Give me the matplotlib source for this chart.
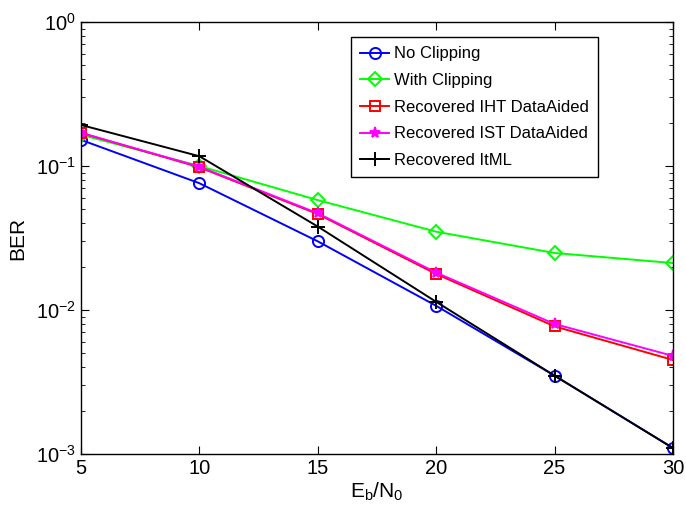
import numpy as np
import matplotlib
matplotlib.use("Agg")
import matplotlib.pyplot as plt

plt.rcParams["font.family"] = ["Liberation Sans", "DejaVu Sans"]
plt.rcParams["mathtext.fontset"] = "custom"
plt.rcParams["mathtext.rm"] = "Liberation Sans"
plt.rcParams["mathtext.it"] = "Liberation Sans"

# data
ebn0 = [5, 10, 15, 20, 25, 30]
no_clip = [0.152, 0.076, 0.030, 0.0107, 0.0035, 0.0011]
with_clip = [0.165, 0.100, 0.058, 0.035, 0.0249, 0.0212]
iht = [0.170, 0.098, 0.0464, 0.0178, 0.0077, 0.0045]
ist = [0.170, 0.099, 0.047, 0.0182, 0.0080, 0.0048]
itml = [0.193, 0.117, 0.038, 0.0114, 0.0035, 0.0011]

fig = plt.figure(figsize=(6.86, 5.13), dpi=100)
ax = fig.add_axes([0.118, 0.115, 0.863, 0.842])

ax.semilogy(ebn0, no_clip, "b-o", mfc="none", ms=8, lw=1.4, mew=1.4, label="No Clipping")
ax.semilogy(ebn0, with_clip, "-D", color="#00ff00", mfc="none", ms=7, lw=1.4, mew=1.4, label="With Clipping")
ax.semilogy(ebn0, iht, "r-s", mfc="none", ms=7, lw=1.4, mew=1.4, label="Recovered IHT DataAided")
ax.semilogy(ebn0, ist, "-*", color="#ff00ff", ms=8, lw=1.4, mew=1.4, label="Recovered IST DataAided")
ax.semilogy(ebn0, itml, "k-+", ms=10, lw=1.4, mew=1.4, label="Recovered ItML")

ax.set_xlim(5, 30)
ax.set_ylim(1e-3, 1)
ax.set_xticks(ebn0)
ax.set_xlabel(r"E$_\mathrm{b}$/N$_\mathrm{0}$", fontsize=15, labelpad=2)
ax.set_ylabel("BER", fontsize=15, labelpad=6)
ax.tick_params(which="both", direction="in", top=True, right=True, labelsize=14.5)
ax.tick_params(which="major", length=6)
ax.tick_params(which="minor", length=3)
for s in ax.spines.values():
    s.set_linewidth(1.0)

leg = ax.legend(loc="upper right", bbox_to_anchor=(0.873, 0.965), fontsize=12,
                fancybox=False, edgecolor="black", framealpha=1,
                handlelength=1.7, handletextpad=0.3, borderpad=0.55, labelspacing=0.7,
                borderaxespad=0)
leg.get_frame().set_linewidth(1.0)

fig.savefig("out.png", dpi=100)
